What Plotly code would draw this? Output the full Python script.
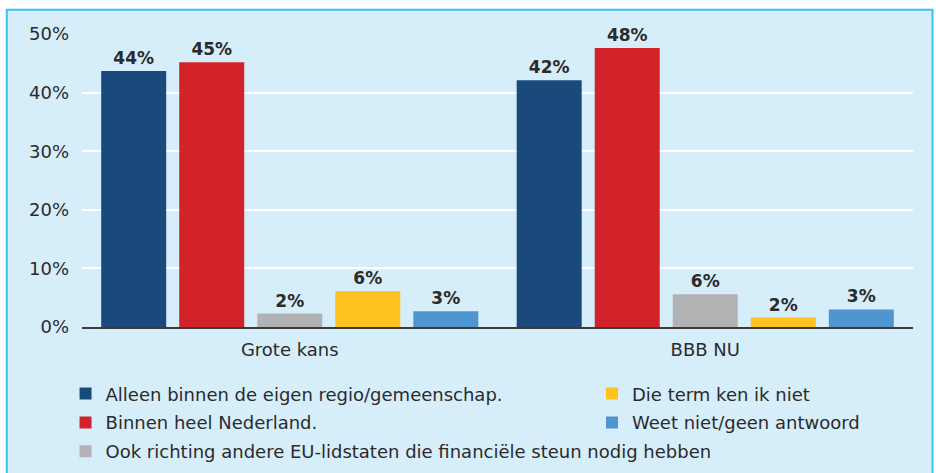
import plotly.graph_objects as go

categories = ["Grote kans", "BBB NU"]
series_names = [
    "Alleen binnen de eigen regio/gemeenschap.",
    "Binnen heel Nederland.",
    "Ook richting andere EU-lidstaten die financiële steun nodig hebben",
    "Die term ken ik niet",
    "Weet niet/geen antwoord",
]
alleen_regio = [43.7, 42.1]
heel_nederland = [45.2, 47.6]
andere_eu = [2.3, 5.6]
term_onbekend = [6.1, 1.6]
weet_niet = [2.7, 3.0]
values = [alleen_regio, heel_nederland, andere_eu, term_onbekend, weet_niet]
colors = ["#1a4a7c", "#d2232a", "#b2b2b5", "#fec221", "#4f95d0"]
legend_ids = ["legend", "legend", "legend", "legend2", "legend2"]
y_ticks = [0, 10, 20, 30, 40, 50]
y_tick_labels = ["0%", "10%", "20%", "30%", "40%", "50%"]

FONT = "DejaVu Sans"
TXT = "#2b2b2b"

fig = go.Figure()
for i, (name, vals, col, lg) in enumerate(zip(series_names, values, colors, legend_ids)):
    fig.add_trace(go.Bar(
        x=categories, y=vals, name=name, marker_color=col, marker_line_width=0,
        texttemplate="%{y:.0f}%", textposition="outside", cliponaxis=False,
        textfont=dict(family=FONT, size=17, color=TXT, weight="bold"),
        legend=lg, legendgroup=f"g{i}",
    ))

BG = "#d6edfa"
fig.update_layout(
    width=936, height=473,
    margin=dict(l=82, r=23, t=34, b=146, autoexpand=False),
    paper_bgcolor="white",
    plot_bgcolor="rgba(0,0,0,0)",
    barmode="group", bargap=0.061, bargroupgap=0.167,
    font=dict(family=FONT, size=18, color=TXT),
    xaxis=dict(showline=True, linecolor="#3a3a3a", linewidth=1.5, ticks="",
               tickfont=dict(size=18, color=TXT), showgrid=False,
               ticklabelstandoff=6),
    yaxis=dict(range=[0, 50], tickvals=y_ticks, ticktext=y_tick_labels,
               showgrid=True, gridcolor="white", gridwidth=1.5, zeroline=False,
               tickfont=dict(size=18, color=TXT), ticklabelstandoff=12),
    legend=dict(x=-0.0198, xanchor="left", y=-0.165, yanchor="top",
                bgcolor="rgba(0,0,0,0)", font=dict(size=18, color=TXT),
                orientation="v", tracegroupgap=2.5),
    legend2=dict(x=0.6137, xanchor="left", y=-0.165, yanchor="top",
                 bgcolor="rgba(0,0,0,0)", font=dict(size=18, color=TXT),
                 orientation="v", tracegroupgap=2.5),
    shapes=[dict(type="rect", xref="paper", yref="paper",
                 x0=-0.0905, x1=1.0235, y0=-0.7, y1=1.0825,
                 fillcolor=BG, line=dict(color="#3cc3f0", width=2),
                 layer="below")],
)

fig.write_html("out.html", config={"displayModeBar": False},
               post_script="document.body.style.margin='0';")
